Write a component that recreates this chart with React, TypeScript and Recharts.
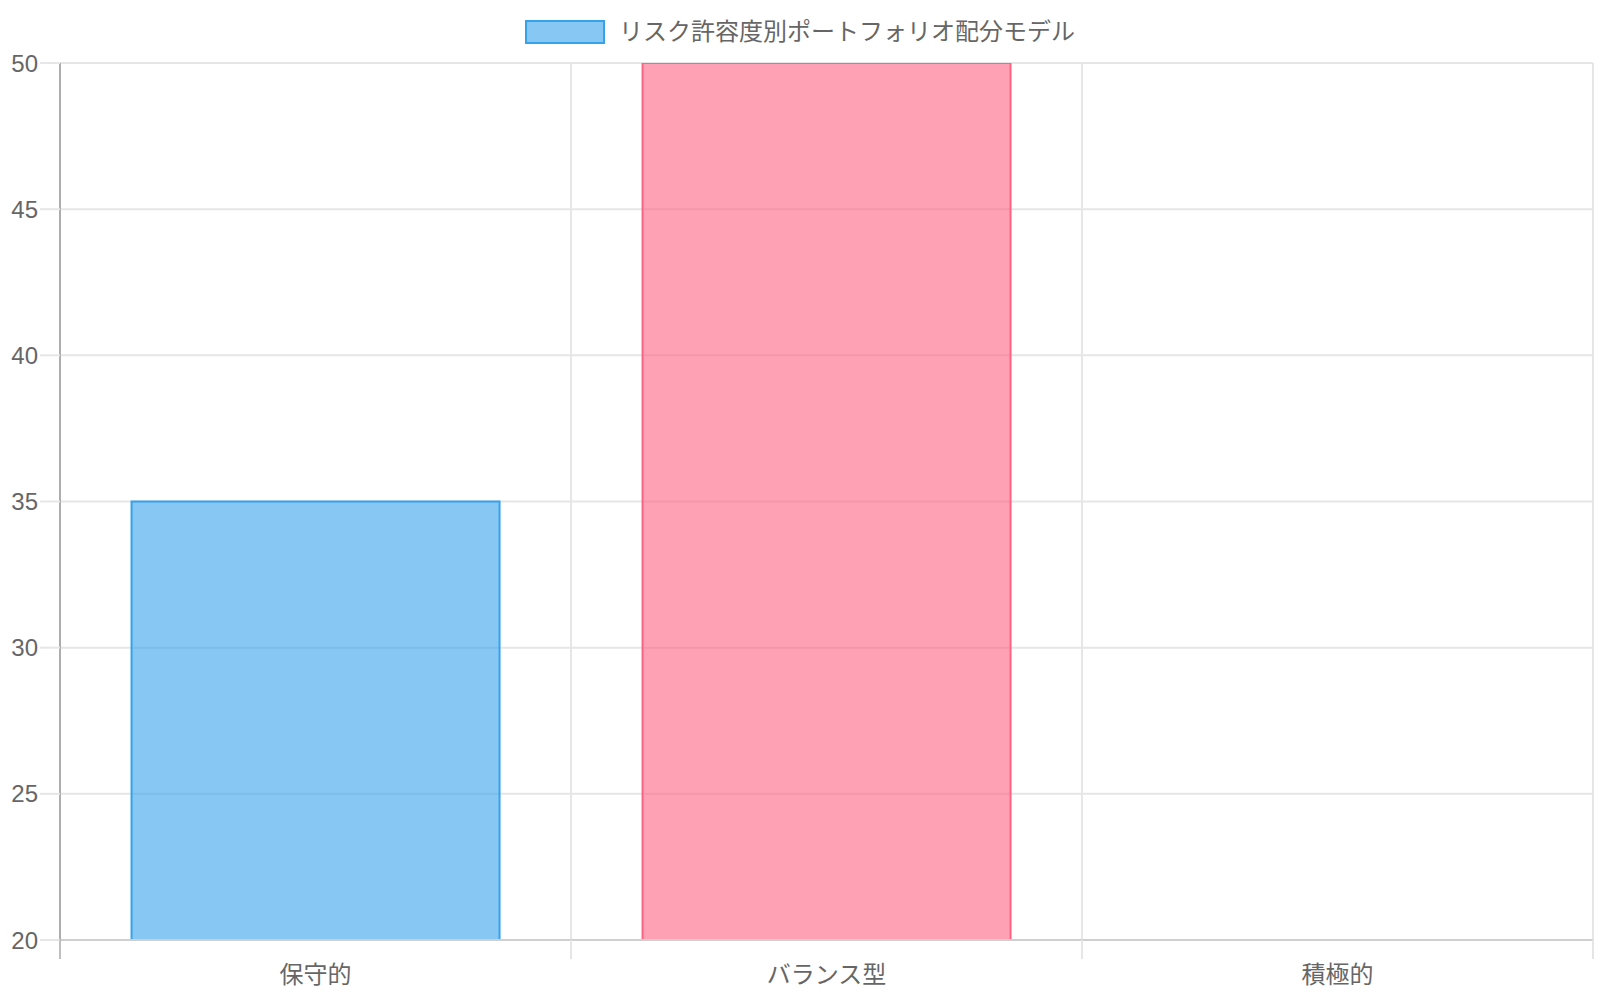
import React from 'react';
import { BarChart, Bar, XAxis, YAxis, CartesianGrid, Cell } from 'recharts';

const categories = ['保守的', 'バランス型', '積極的'];
const allocationValues = [35, 50, 15];
const yTicks = [20, 25, 30, 35, 40, 45, 50];
const seriesLabel = 'リスク許容度別ポートフォリオ配分モデル';
const fillColors = ['rgba(54,162,235,0.6)', 'rgba(255,99,132,0.6)', 'rgba(255,206,86,0.6)'];
const strokeColors = ['#36a2eb', '#ff6384', '#ffce56'];

const data = categories.map((name, i) => ({ name, value: allocationValues[i] }));

const W = 1600;
const H = 1000;
const MARGIN = { top: 63, right: 7, left: 0, bottom: 0 };
const Y_AXIS_W = 60;
const X_AXIS_H = 60;
const PLOT_W = W - MARGIN.left - MARGIN.right - Y_AXIS_W;
const FONT = "'Liberation Sans', 'Noto Sans CJK JP', sans-serif";
const GRID = '#e6e6e6';

const XTick = (props: any) => {
  const { x, y, payload, index } = props;
  const band = PLOT_W / categories.length;
  const left = x - band / 2;
  const right = x + band / 2;
  return (
    <g>
      <line x1={left} x2={left} y1={y} y2={y + 19} stroke={index === 0 ? '#bfbfbf' : GRID} strokeWidth={2} />
      {index === categories.length - 1 && (
        <line x1={right} x2={right} y1={y} y2={y + 19} stroke={GRID} strokeWidth={2} />
      )}
      <text x={x} y={y + 34} textAnchor="middle" dominantBaseline="central" fill="#666" fontSize={24} fontFamily={FONT}>
        {payload.value}
      </text>
    </g>
  );
};

export default function App() {
  return (
    <div style={{ position: 'absolute', left: 0, top: 0, width: W, height: H, background: '#fff', fontFamily: FONT }}>
      <div
        style={{
          position: 'absolute',
          top: 20,
          left: 0,
          width: W,
          height: 24,
          display: 'flex',
          justifyContent: 'center',
          alignItems: 'center',
        }}
      >
        <div
          style={{
            width: 80,
            height: 24,
            boxSizing: 'border-box',
            background: fillColors[0],
            border: `2px solid ${strokeColors[0]}`,
            marginRight: 14,
          }}
        />
        <span style={{ fontSize: 24, color: '#666', lineHeight: '24px', whiteSpace: 'nowrap' }}>{seriesLabel}</span>
      </div>
      <BarChart width={W} height={H} data={data} margin={MARGIN} barCategoryGap="14%">
        <CartesianGrid
          stroke={GRID}
          strokeWidth={2}
          verticalCoordinatesGenerator={({ offset }: any) =>
            Array.from({ length: categories.length + 1 }, (_, i) => offset.left + (i * offset.width) / categories.length)
          }
        />
        <XAxis
          dataKey="name"
          height={X_AXIS_H}
          axisLine={{ stroke: '#cfcfcf', strokeWidth: 2 }}
          tickLine={false}
          tickSize={0}
          tickMargin={0}
          tick={<XTick />}
          interval={0}
        />
        <YAxis
          width={Y_AXIS_W}
          domain={[20, 50]}
          ticks={yTicks}
          allowDataOverflow
          axisLine={{ stroke: '#adadad', strokeWidth: 2 }}
          tickLine={{ stroke: GRID, strokeWidth: 2 }}
          tickSize={20}
          tickMargin={2}
          tick={{ fill: '#666', fontSize: 24, fontFamily: FONT }}
        />
        <Bar dataKey="value" isAnimationActive={false} strokeWidth={2}>
          {data.map((d, i) => (
            <Cell key={d.name} fill={fillColors[i]} stroke={strokeColors[i]} />
          ))}
        </Bar>
      </BarChart>
    </div>
  );
}
